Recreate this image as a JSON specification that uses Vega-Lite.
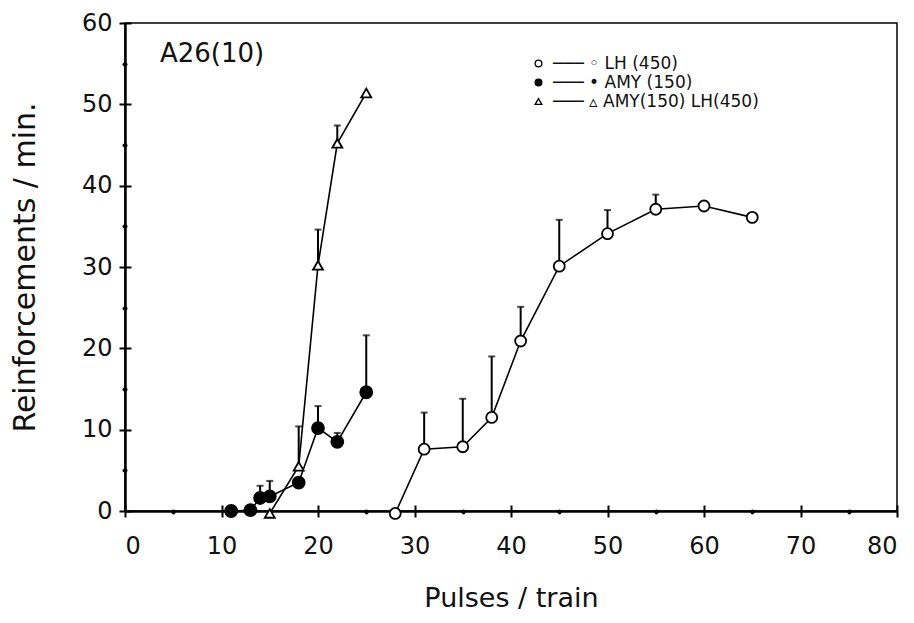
{
  "$schema": "https://vega.github.io/schema/vega-lite/v6.json",
  "autosize": {"type": "none"},
  "width": 772,
  "height": 488,
  "padding": {"left": 125, "top": 23, "right": 17, "bottom": 112},
  "background": "white",
  "config": {
    "font": "DejaVu Sans",
    "view": {"stroke": "black", "strokeWidth": 1.5},
    "axis": {"grid": false, "domainColor": "black", "tickColor": "black", "labelColor": "#111", "titleColor": "#111", "labelFont": "DejaVu Sans", "titleFont": "DejaVu Sans", "titleFontWeight": "normal"},
    "legend": {"orient": "none", "legendX": 405, "legendY": 32, "padding": 0, "labelFont": "DejaVu Sans", "labelFontSize": 17, "labelColor": "#111", "labelLimit": 500, "symbolSize": 45, "symbolStrokeWidth": 1.3, "rowPadding": 1, "labelOffset": 6, "titleFontSize": 0}
  },
  "title": {"text": "A26(10)", "anchor": "start", "frame": "group", "orient": "top", "offset": 0, "dx": 35, "dy": 56, "fontSize": 26, "fontWeight": "normal", "color": "#111", "font": "DejaVu Sans"},
  "data": {"values": [
    {"s": "LH (450)", "x": 28, "y": -0.3, "e": null},
    {"s": "LH (450)", "x": 31, "y": 7.6, "e": 12.1},
    {"s": "LH (450)", "x": 35, "y": 7.9, "e": 13.8},
    {"s": "LH (450)", "x": 38, "y": 11.5, "e": 19.0},
    {"s": "LH (450)", "x": 41, "y": 20.9, "e": 25.1},
    {"s": "LH (450)", "x": 45, "y": 30.1, "e": 35.8},
    {"s": "LH (450)", "x": 50, "y": 34.1, "e": 37.0},
    {"s": "LH (450)", "x": 55, "y": 37.1, "e": 38.9},
    {"s": "LH (450)", "x": 60, "y": 37.5, "e": null},
    {"s": "LH (450)", "x": 65, "y": 36.1, "e": null},
    {"s": "AMY (150)", "x": 11, "y": 0, "e": null},
    {"s": "AMY (150)", "x": 13, "y": 0.1, "e": null},
    {"s": "AMY (150)", "x": 14, "y": 1.6, "e": 3.1},
    {"s": "AMY (150)", "x": 15, "y": 1.8, "e": 3.7},
    {"s": "AMY (150)", "x": 18, "y": 3.5, "e": null},
    {"s": "AMY (150)", "x": 20, "y": 10.2, "e": 12.9},
    {"s": "AMY (150)", "x": 22, "y": 8.5, "e": 9.6},
    {"s": "AMY (150)", "x": 25, "y": 14.6, "e": 21.6},
    {"s": "AMY(150) LH(450)", "x": 15, "y": -0.3, "e": null},
    {"s": "AMY(150) LH(450)", "x": 18, "y": 5.5, "e": 10.4},
    {"s": "AMY(150) LH(450)", "x": 20, "y": 30.2, "e": 34.6},
    {"s": "AMY(150) LH(450)", "x": 22, "y": 45.2, "e": 47.4},
    {"s": "AMY(150) LH(450)", "x": 25, "y": 51.4, "e": null}
  ]},
  "resolve": {"axis": {"x": "independent", "y": "independent"}},
  "layer": [
    {
      "transform": [{"filter": "datum.e != null"}],
      "mark": {"type": "rule", "color": "black", "strokeWidth": 2},
      "encoding": {
        "x": {"field": "x", "type": "quantitative", "scale": {"domain": [0, 80], "nice": false},
          "axis": {"orient": "bottom", "title": "Pulses / train", "values": [0, 10, 20, 30, 40, 50, 60, 70, 80], "tickSize": 6, "tickWidth": 2, "domainWidth": 2.5, "labelFontSize": 24, "labelPadding": 17, "titleFontSize": 27, "titlePadding": 27}},
        "y": {"field": "y", "type": "quantitative", "scale": {"domain": [0, 60], "nice": false},
          "axis": {"orient": "left", "title": "Reinforcements / min.", "values": [0, 10, 20, 30, 40, 50, 60], "tickSize": 6, "tickWidth": 2, "domainWidth": 2.5, "labelFontSize": 24, "labelPadding": 7, "titleFontSize": 30, "titlePadding": 41}},
        "y2": {"field": "e"}
      }
    },
    {
      "transform": [{"filter": "datum.e != null"}],
      "mark": {"type": "tick", "orient": "horizontal", "color": "black", "size": 7, "thickness": 2},
      "encoding": {
        "x": {"field": "x", "type": "quantitative", "axis": null},
        "y": {"field": "e", "type": "quantitative", "axis": null}
      }
    },
    {
      "mark": {"type": "line", "color": "black", "strokeWidth": 1.6},
      "encoding": {
        "detail": {"field": "s"},
        "order": {"field": "x", "type": "quantitative"},
        "x": {"field": "x", "type": "quantitative",
          "axis": {"orient": "bottom", "title": null, "labels": false, "domain": false, "values": [0, 10, 20, 30, 40, 50, 60, 70, 80], "tickSize": -6, "tickWidth": 2}},
        "y": {"field": "y", "type": "quantitative",
          "axis": {"orient": "left", "title": null, "labels": false, "domain": false, "values": [0, 10, 20, 30, 40, 50, 60], "tickSize": -6, "tickWidth": 2}}
      }
    },
    {
      "mark": {"type": "point", "strokeWidth": 1.8, "opacity": 1},
      "encoding": {
        "x": {"field": "x", "type": "quantitative",
          "axis": {"orient": "bottom", "title": null, "labels": false, "domain": false, "values": [5, 15, 25, 35, 45, 55, 65, 75], "tickSize": 1, "tickWidth": 4, "tickCap": "round"}},
        "y": {"field": "y", "type": "quantitative",
          "axis": {"orient": "left", "title": null, "labels": false, "domain": false, "values": [5, 15, 25, 35, 45, 55], "tickSize": 1, "tickWidth": 4, "tickCap": "round"}},
        "shape": {"field": "s", "type": "nominal", "scale": {"domain": ["LH (450)", "AMY (150)", "AMY(150) LH(450)"], "range": ["circle", "circle", "triangle-up"]},
          "legend": {"title": null, "labelExpr": "datum.label == 'LH (450)' ? '─── ◦ LH (450)' : datum.label == 'AMY (150)' ? '─── • AMY (150)' : '─── ▵ AMY(150) LH(450)'"}},
        "fill": {"field": "s", "type": "nominal", "scale": {"domain": ["LH (450)", "AMY (150)", "AMY(150) LH(450)"], "range": ["white", "black", "white"]},
          "legend": {"title": null, "labelExpr": "datum.label == 'LH (450)' ? '─── ◦ LH (450)' : datum.label == 'AMY (150)' ? '─── • AMY (150)' : '─── ▵ AMY(150) LH(450)'"}},
        "stroke": {"field": "s", "type": "nominal", "scale": {"domain": ["LH (450)", "AMY (150)", "AMY(150) LH(450)"], "range": ["black", "black", "black"]},
          "legend": {"title": null, "labelExpr": "datum.label == 'LH (450)' ? '─── ◦ LH (450)' : datum.label == 'AMY (150)' ? '─── • AMY (150)' : '─── ▵ AMY(150) LH(450)'"}},
        "size": {"condition": [{"test": "datum.s == 'AMY (150)'", "value": 144}, {"test": "datum.s == 'AMY(150) LH(450)'", "value": 100}], "value": 121}
      }
    }
  ]
}
